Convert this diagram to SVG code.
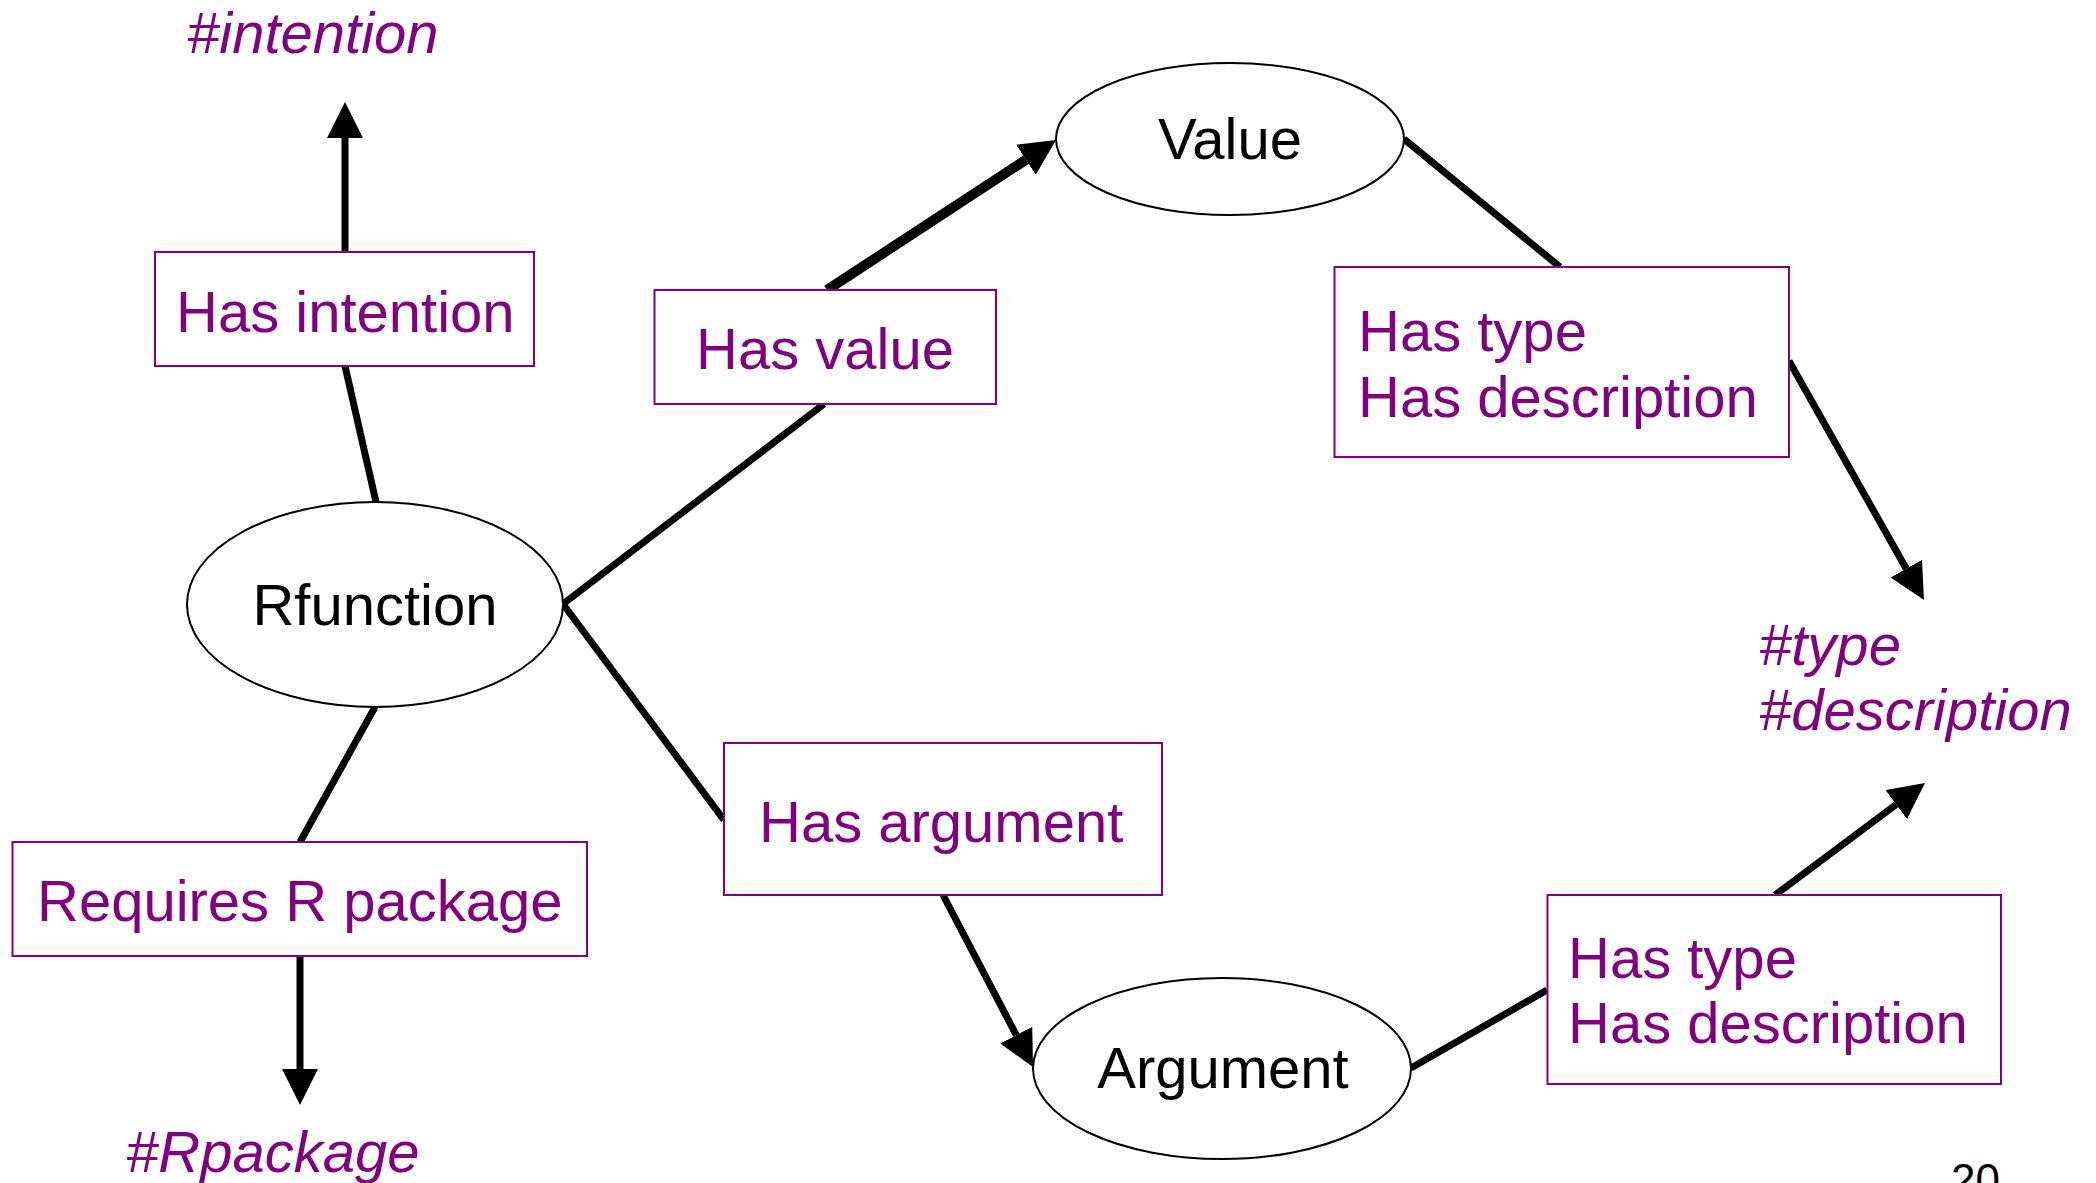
<svg xmlns="http://www.w3.org/2000/svg" width="2096" height="1183" viewBox="0 0 2096 1183">
<style>
  .lbl { fill: #800080; font-family: "Liberation Sans", Arial, sans-serif; font-size: 58px; }
  .tag { fill: #800080; font-family: "Liberation Sans", Arial, sans-serif; font-size: 58px; font-style: italic; }
  .nodeText { fill: #000; font-family: "Liberation Sans", Arial, sans-serif; font-size: 58px; text-anchor: middle; }
  .box { fill: #fff; stroke: #800080; stroke-width: 2; }
  .ell { fill: #fff; stroke: #000; stroke-width: 2; }
  .edge { stroke: #000; stroke-width: 7; fill: none; }
  .arrow { marker-end: url(#ah); }
</style>
<defs>
  <marker id="ah" viewBox="0 0 36 36" refX="0" refY="18" markerWidth="36" markerHeight="36" markerUnits="userSpaceOnUse" orient="auto">
    <path d="M0,0 L36,18 L0,36 z" fill="#000"/>
  </marker>
</defs>
<rect width="2096" height="1183" fill="#fff"/>
<g id="connectors">
  <line class="edge" x1="345" y1="366" x2="376" y2="502"/>
  <line class="edge" x1="375" y1="707" x2="300" y2="842"/>
  <line class="edge" x1="563" y1="604" x2="824" y2="404"/>
  <line class="edge" x1="563" y1="604" x2="724" y2="820"/>
  <line class="edge" x1="1404" y1="139" x2="1560" y2="267"/>
  <line class="edge" x1="1411" y1="1068" x2="1547" y2="990"/>
  <line class="edge arrow" x1="345" y1="252" x2="345" y2="138"/>
  <line class="edge arrow" x1="300" y1="956" x2="300" y2="1069"/>
  <line class="edge arrow" style="stroke-width:10" x1="827" y1="290" x2="1025.9" y2="159.7"/>
  <line class="edge arrow" x1="1789" y1="361" x2="1906.3" y2="568.7"/>
  <line class="edge arrow" x1="943" y1="895" x2="1016.3" y2="1035.1"/>
  <line class="edge arrow" x1="1775" y1="895" x2="1896.2" y2="804.5"/>
</g>
<g id="rfunction">
  <ellipse class="ell" cx="375" cy="604.5" rx="188" ry="102.5"/>
  <text class="nodeText" x="375" y="625">Rfunction</text>
</g>
<g id="value">
  <ellipse class="ell" cx="1230" cy="139" rx="174" ry="76"/>
  <text class="nodeText" x="1230" y="159">Value</text>
</g>
<g id="argument">
  <ellipse class="ell" cx="1222" cy="1068.5" rx="189" ry="90.5"/>
  <text class="nodeText" x="1223" y="1088">Argument</text>
</g>
<g id="has-intention">
  <rect class="box" x="155" y="252" width="379" height="114"/>
  <text class="lbl" x="176" y="332">Has intention</text>
</g>
<g id="has-value">
  <rect class="box" x="654.5" y="290" width="341.5" height="114"/>
  <text class="lbl" x="696" y="369">Has value</text>
</g>
<g id="value-type-desc">
  <rect class="box" x="1334.5" y="267" width="454.5" height="190"/>
  <text class="lbl" x="1358" y="351">Has type</text>
  <text class="lbl" x="1358" y="416.5">Has description</text>
</g>
<g id="has-argument">
  <rect class="box" x="724" y="743" width="438" height="152"/>
  <text class="lbl" x="759" y="842">Has argument</text>
</g>
<g id="argument-type-desc">
  <rect class="box" x="1547.5" y="895" width="453.5" height="189"/>
  <text class="lbl" x="1568" y="978">Has type</text>
  <text class="lbl" x="1568" y="1043">Has description</text>
</g>
<g id="requires-package">
  <rect class="box" x="12.5" y="842" width="574.5" height="114"/>
  <text class="lbl" x="37" y="921">Requires R package</text>
</g>
<g id="tag-intention">
  <text class="tag" x="187" y="53">#intention</text>
</g>
<g id="tag-type-description">
  <text class="tag" x="1759" y="665">#type</text>
  <text class="tag" x="1759" y="730">#description</text>
</g>
<g id="tag-rpackage">
  <text class="tag" x="126" y="1172">#Rpackage</text>
</g>
<text x="1951" y="1195" font-family="Liberation Sans, Arial, sans-serif" font-size="44" fill="#000">20</text>
</svg>
